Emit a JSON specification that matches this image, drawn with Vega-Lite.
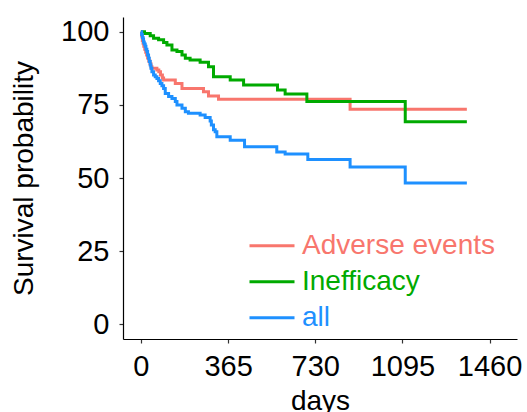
{
  "$schema": "https://vega.github.io/schema/vega-lite/v6.json",
  "width": 394,
  "height": 322,
  "autosize": "none",
  "padding": {"left": 123, "top": 17, "right": 10, "bottom": 73},
  "config": {
    "view": {"stroke": null},
    "font": "Liberation Sans",
    "axis": {"grid": false, "domainColor": "#000000", "domainWidth": 1.2, "tickColor": "#333333", "tickSize": 4, "tickWidth": 1.2, "labelColor": "#000000", "titleColor": "#000000", "labelFontSize": 29, "titleFontSize": 28, "titleFontWeight": "normal", "labelFont": "Liberation Sans", "titleFont": "Liberation Sans"}
  },
  "data": {
    "values": [
      {"group": "Adverse events", "day": 0, "surv": 100},
      {"group": "Adverse events", "day": 3, "surv": 98.5},
      {"group": "Adverse events", "day": 6, "surv": 97},
      {"group": "Adverse events", "day": 9, "surv": 96},
      {"group": "Adverse events", "day": 12, "surv": 95},
      {"group": "Adverse events", "day": 16, "surv": 94},
      {"group": "Adverse events", "day": 20, "surv": 93},
      {"group": "Adverse events", "day": 24, "surv": 92},
      {"group": "Adverse events", "day": 28, "surv": 91},
      {"group": "Adverse events", "day": 33, "surv": 90},
      {"group": "Adverse events", "day": 38, "surv": 89},
      {"group": "Adverse events", "day": 42, "surv": 88},
      {"group": "Adverse events", "day": 46, "surv": 87.5},
      {"group": "Adverse events", "day": 67, "surv": 86.9},
      {"group": "Adverse events", "day": 75, "surv": 86.3},
      {"group": "Adverse events", "day": 82, "surv": 85.2},
      {"group": "Adverse events", "day": 90, "surv": 84.2},
      {"group": "Adverse events", "day": 95, "surv": 83.5},
      {"group": "Adverse events", "day": 144, "surv": 82.3},
      {"group": "Adverse events", "day": 172, "surv": 80.6},
      {"group": "Adverse events", "day": 262, "surv": 79.5},
      {"group": "Adverse events", "day": 283, "surv": 78},
      {"group": "Adverse events", "day": 325, "surv": 76.9},
      {"group": "Adverse events", "day": 876, "surv": 73.5},
      {"group": "Adverse events", "day": 1365, "surv": 73.5},
      {"group": "Inefficacy", "day": 0, "surv": 100},
      {"group": "Inefficacy", "day": 15, "surv": 99.4},
      {"group": "Inefficacy", "day": 39, "surv": 98.6},
      {"group": "Inefficacy", "day": 53, "surv": 97.7},
      {"group": "Inefficacy", "day": 74, "surv": 97.2},
      {"group": "Inefficacy", "day": 95, "surv": 96.3},
      {"group": "Inefficacy", "day": 109, "surv": 95.4},
      {"group": "Inefficacy", "day": 130, "surv": 93.7},
      {"group": "Inefficacy", "day": 151, "surv": 93.2},
      {"group": "Inefficacy", "day": 172, "surv": 92},
      {"group": "Inefficacy", "day": 186, "surv": 90.9},
      {"group": "Inefficacy", "day": 206, "surv": 90.3},
      {"group": "Inefficacy", "day": 248, "surv": 89.5},
      {"group": "Inefficacy", "day": 283, "surv": 88},
      {"group": "Inefficacy", "day": 304, "surv": 84.6},
      {"group": "Inefficacy", "day": 374, "surv": 83.5},
      {"group": "Inefficacy", "day": 430, "surv": 81.8},
      {"group": "Inefficacy", "day": 572, "surv": 80.1},
      {"group": "Inefficacy", "day": 604, "surv": 78.7},
      {"group": "Inefficacy", "day": 695, "surv": 76.1},
      {"group": "Inefficacy", "day": 1107, "surv": 69.2},
      {"group": "Inefficacy", "day": 1365, "surv": 69.2},
      {"group": "all", "day": 0, "surv": 100},
      {"group": "all", "day": 3, "surv": 99},
      {"group": "all", "day": 6, "surv": 98},
      {"group": "all", "day": 9, "surv": 97.5},
      {"group": "all", "day": 11, "surv": 96.5},
      {"group": "all", "day": 14, "surv": 95.8},
      {"group": "all", "day": 18, "surv": 95},
      {"group": "all", "day": 21, "surv": 94},
      {"group": "all", "day": 25, "surv": 93.2},
      {"group": "all", "day": 28, "surv": 92},
      {"group": "all", "day": 32, "surv": 90.9},
      {"group": "all", "day": 35, "surv": 89.8},
      {"group": "all", "day": 39, "surv": 88.6},
      {"group": "all", "day": 42, "surv": 87.5},
      {"group": "all", "day": 46, "surv": 86.3},
      {"group": "all", "day": 53, "surv": 85.2},
      {"group": "all", "day": 60, "surv": 84.6},
      {"group": "all", "day": 67, "surv": 84},
      {"group": "all", "day": 74, "surv": 83.2},
      {"group": "all", "day": 81, "surv": 82.3},
      {"group": "all", "day": 88, "surv": 81.5},
      {"group": "all", "day": 95, "surv": 80.6},
      {"group": "all", "day": 102, "surv": 78.9},
      {"group": "all", "day": 116, "surv": 77.8},
      {"group": "all", "day": 130, "surv": 77.2},
      {"group": "all", "day": 144, "surv": 76.1},
      {"group": "all", "day": 151, "surv": 74.9},
      {"group": "all", "day": 172, "surv": 73.8},
      {"group": "all", "day": 186, "surv": 72.6},
      {"group": "all", "day": 199, "surv": 72.1},
      {"group": "all", "day": 248, "surv": 71.5},
      {"group": "all", "day": 269, "surv": 70.7},
      {"group": "all", "day": 290, "surv": 69.5},
      {"group": "all", "day": 295, "surv": 68.1},
      {"group": "all", "day": 304, "surv": 66.5},
      {"group": "all", "day": 311, "surv": 65.8},
      {"group": "all", "day": 318, "surv": 64.1},
      {"group": "all", "day": 374, "surv": 62.9},
      {"group": "all", "day": 434, "surv": 60.7},
      {"group": "all", "day": 569, "surv": 58.9},
      {"group": "all", "day": 604, "surv": 58.2},
      {"group": "all", "day": 699, "surv": 56.3},
      {"group": "all", "day": 876, "surv": 53.8},
      {"group": "all", "day": 1107, "surv": 48.3},
      {"group": "all", "day": 1365, "surv": 48.3}
    ]
  },
  "mark": {"type": "line", "interpolate": "step-after", "strokeWidth": 3},
  "encoding": {
    "x": {
      "field": "day", "type": "quantitative",
      "scale": {"domain": [-75, 1575], "nice": false, "zero": false},
      "axis": {"values": [0, 365, 730, 1095, 1460], "format": "d", "title": "days", "labelPadding": 9, "titlePadding": 6, "labelFlush": false, "labelOverlap": false}
    },
    "y": {
      "field": "surv", "type": "quantitative",
      "scale": {"domain": [-5, 105], "nice": false, "zero": false},
      "axis": {"values": [0, 25, 50, 75, 100], "title": "Survival probability", "labelPadding": 10, "titlePadding": 22}
    },
    "color": {
      "field": "group", "type": "nominal",
      "scale": {"domain": ["Adverse events", "Inefficacy", "all"], "range": ["#F8766D", "#00AA00", "#1E90FF"]},
      "legend": {
        "title": null, "orient": "none", "legendX": 125, "legendY": 211,
        "symbolType": "stroke", "symbolSize": 2025, "symbolStrokeWidth": 3,
        "labelFontSize": 28, "labelFont": "Liberation Sans", "labelOffset": 6, "rowPadding": 0, "clipHeight": 35.5, "labelLimit": 400,
        "encode": {"labels": {"update": {"fill": {"scale": "color", "field": "value"}}}}
      }
    }
  }
}
